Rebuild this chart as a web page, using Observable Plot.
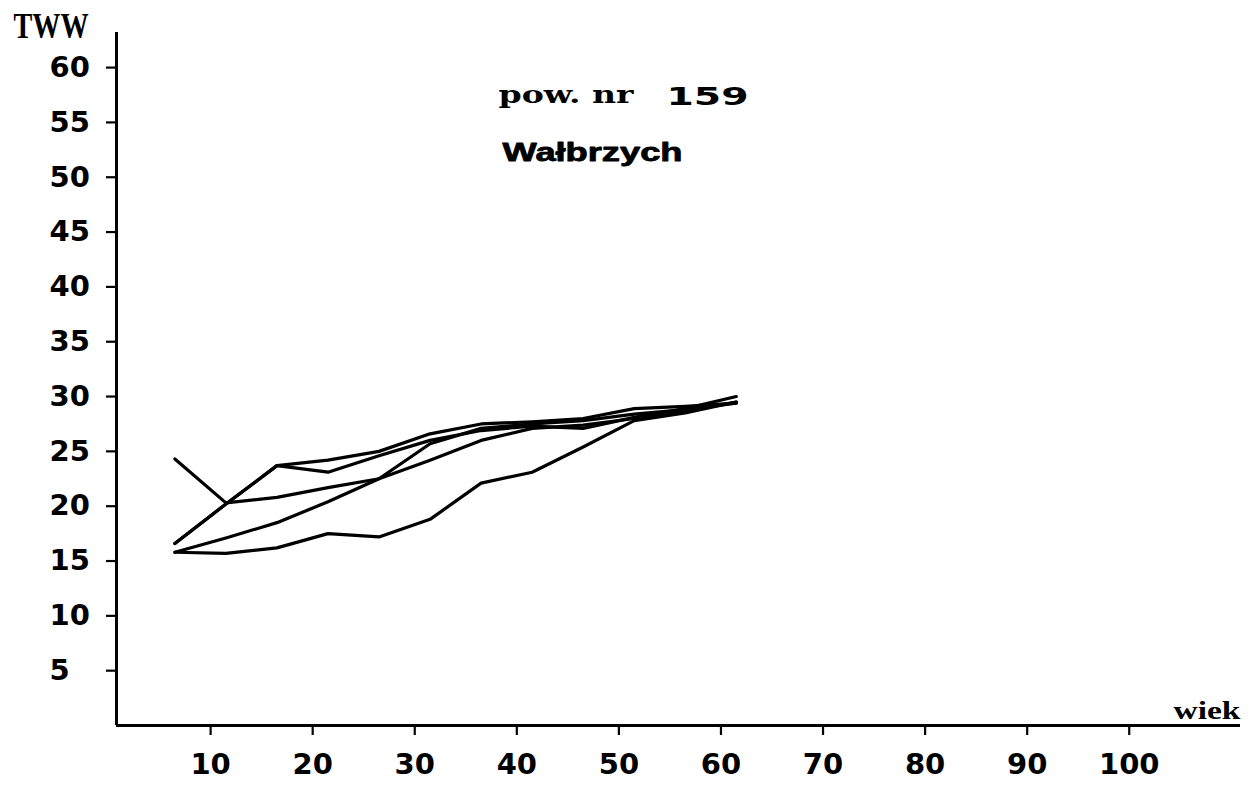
<!DOCTYPE html>
<html>
<head>
<meta charset="utf-8">
<script src="https://cdn.jsdelivr.net/npm/d3@7"></script>
<script src="https://cdn.jsdelivr.net/npm/@observablehq/plot@0.6"></script>
<style>
  html, body { margin: 0; padding: 0; background: white; }
  #chart { width: 1257px; height: 787px; overflow: hidden; }
</style>
</head>
<body>
<div id="chart"></div>
<script>
// ---- data ----
const ages = [6.5, 11.5, 16.5, 21.5, 26.5, 31.5, 36.5, 41.5, 46.5, 51.5, 56.5, 61.5];
const line1 = [24.3, 20.3, 20.8, 21.7, 22.5, 25.7, 27.1, 27.5, 27.8, 28.4, 28.8, 29.4];
const line2 = [16.6, 20.2, 23.7, 24.2, 25.0, 26.6, 27.5, 27.7, 28.0, 28.9, 29.1, 29.4];
const line3 = [16.6, 20.2, 23.7, 23.1, 24.6, 26.0, 26.9, 27.3, 27.1, 28.1, 28.9, 30.0];
const line4 = [15.8, 17.1, 18.5, 20.4, 22.5, 24.2, 26.0, 27.1, 27.4, 28.0, 28.7, 29.5];
const line5 = [15.8, 15.7, 16.2, 17.5, 17.2, 18.8, 22.1, 23.1, 25.4, 27.8, 28.5, 29.5];

const xTicks = [10, 20, 30, 40, 50, 60, 70, 80, 90, 100];
const yTicks = [5, 10, 15, 20, 25, 30, 35, 40, 45, 50, 55, 60];
const xDomain = [0.78, 110.9];
const yDomain = [0, 63.2];

const yAxisTitle = ["TWW"];
const xAxisTitle = ["wiek"];
const titleWords = ["pow. nr"];
const titleNumber = ["159"];
const subtitle = ["Wałbrzych"];

// ---- build the table ----
const seriesList = [line1, line2, line3, line4, line5];
const rows = [];
seriesList.forEach((vals, s) => {
  vals.forEach((v, i) => rows.push({age: ages[i], tww: v, series: "s" + (s + 1)}));
});

const chart = Plot.plot({
  width: 1257,
  height: 787,
  marginLeft: 116,
  marginRight: 17,
  marginTop: 32,
  marginBottom: 62,
  style: {
    fontFamily: "DejaVu Sans",
    fontSize: "28px",
    fontWeight: "bold",
    background: "white",
    color: "black"
  },
  x: {domain: xDomain, axis: null},
  y: {domain: yDomain, axis: null},
  marks: [
    Plot.axisX(xTicks, {
      anchor: "bottom", label: null, tickSize: 10, tickPadding: 18,
      strokeWidth: 2.2, fontSize: 29, fontWeight: "bold"
    }),
    Plot.axisY(yTicks, {
      anchor: "left", label: null, tickSize: 10, tickPadding: 57,
      textAnchor: "start", strokeWidth: 2.2, fontSize: 29, fontWeight: "bold"
    }),
    Plot.ruleY([yDomain[0]], {stroke: "black", strokeWidth: 3}),
    Plot.ruleX([xDomain[0]], {stroke: "black", strokeWidth: 3}),
    Plot.line(rows, {
      x: "age", y: "tww", z: "series",
      stroke: "black", strokeWidth: 3.2,
      strokeLinejoin: "round", strokeLinecap: "round"
    }),
    Plot.text(yAxisTitle, {
      text: d => d, frameAnchor: "top-left", textAnchor: "start", lineAnchor: "middle",
      dx: -103, dy: -6.5, fill: "black",
      fontFamily: "Liberation Serif", fontWeight: "bold", fontSize: 36
    }),
    Plot.text(xAxisTitle, {
      text: d => d, frameAnchor: "bottom-right", textAnchor: "end", lineAnchor: "middle",
      dx: 0, dy: -15, fill: "black",
      fontFamily: "Liberation Serif", fontWeight: "bold", fontSize: 26
    }),
    Plot.text(titleWords, {
      text: d => d, frameAnchor: "top-left", textAnchor: "start", lineAnchor: "middle",
      dx: 382, dy: 63.3, fill: "black",
      fontFamily: "DejaVu Serif", fontWeight: "bold", fontSize: 24
    }),
    Plot.text(titleNumber, {
      text: d => d, frameAnchor: "top-left", textAnchor: "start", lineAnchor: "middle",
      dx: 550, dy: 65.3, fill: "black",
      fontFamily: "DejaVu Sans", fontWeight: "bold", fontSize: 24
    }),
    Plot.text(subtitle, {
      text: d => d, frameAnchor: "top-left", textAnchor: "start", lineAnchor: "middle",
      dx: 386, dy: 120, fill: "black", stroke: "black", strokeWidth: 0.8,
      fontFamily: "Liberation Sans", fontWeight: "bold", fontSize: 25
    })
  ]
});

// stretch the hand-set labels to the widths seen in the scan
const stretch = {"TWW": 75, "wiek": 67, "pow. nr": 135, "159": 82, "Wałbrzych": 180};
chart.querySelectorAll("text").forEach(t => {
  const key = t.textContent;
  if (stretch[key] && t.children.length === 0) {
    t.setAttribute("textLength", stretch[key]);
    t.setAttribute("lengthAdjust", "spacingAndGlyphs");
  }
});

document.getElementById("chart").appendChild(chart);
</script>
</body>
</html>
